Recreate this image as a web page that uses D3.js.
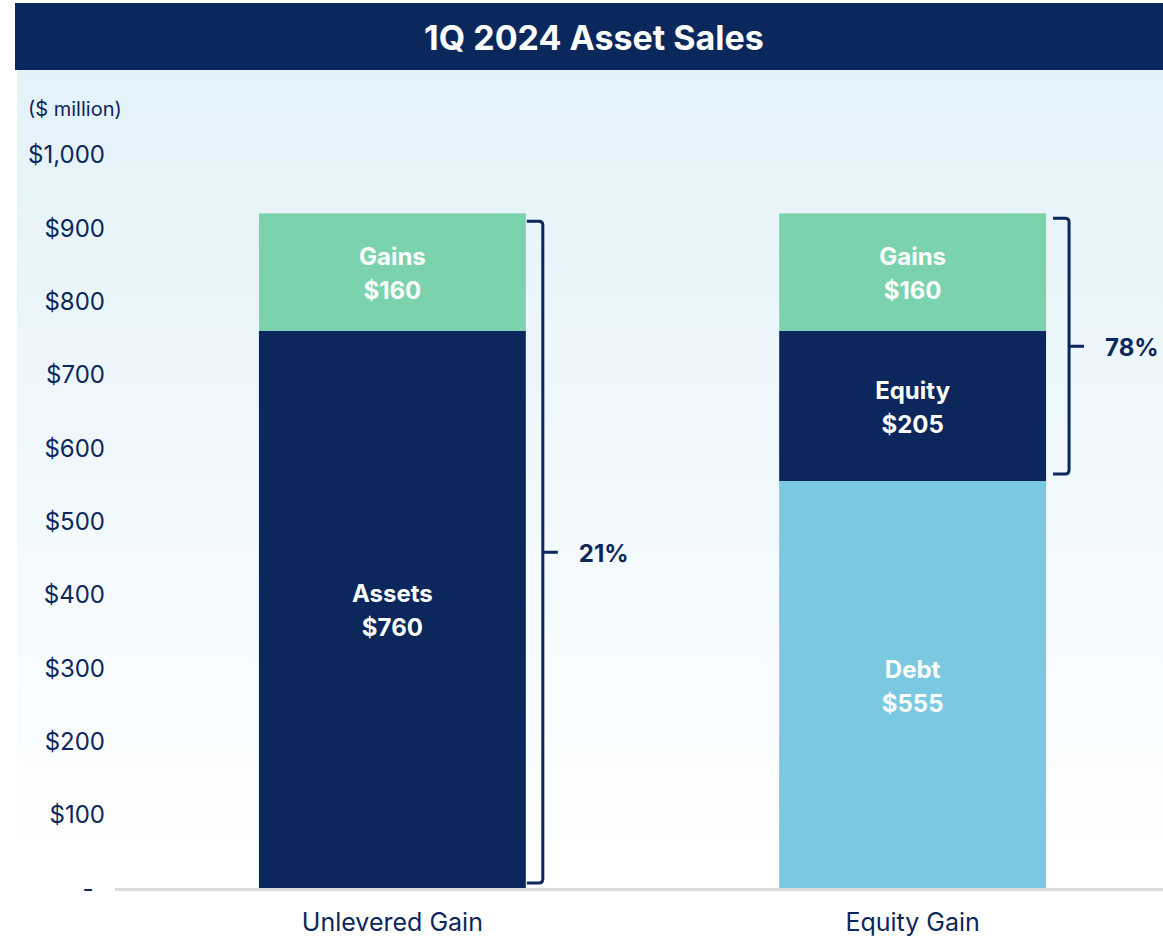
<!DOCTYPE html>
<html>
<head>
<meta charset="utf-8">
<script src="https://cdn.jsdelivr.net/npm/d3@7"></script>
<style>
  body { margin: 0; background: #fff; }
  svg { display: block; font-family: Inter, 'Open Sans', sans-serif; }
</style>
</head>
<body>
<svg id="chart" width="1163" height="940"></svg>
<script>
const categories = ['Unlevered Gain', 'Equity Gain']
// stacked segments, bottom to top
const segments = [
  { category: 'Unlevered Gain', name: 'Assets', value: 760, color: '#0c275c' },
  { category: 'Unlevered Gain', name: 'Gains', value: 160, color: '#7bd3ae' },
  { category: 'Equity Gain', name: 'Debt', value: 555, color: '#7ac9e1' },
  { category: 'Equity Gain', name: 'Equity', value: 205, color: '#0c275c' },
  { category: 'Equity Gain', name: 'Gains', value: 160, color: '#7bd3ae' }
]
const yTicks = [0, 100, 200, 300, 400, 500, 600, 700, 800, 900, 1000]
// brackets: category, from value, to value, label
const brackets = [
  { category: 'Unlevered Gain', from: 0, to: 920, label: '21%' },
  { category: 'Equity Gain', from: 555, to: 920, label: '78%' }
]

const navy = '#0c275c'
const svg = d3.select('#chart')

// background gradient panel
const defs = svg.append('defs')
const grad = defs.append('linearGradient')
    .attr('id', 'bg')
    .attr('x1', 0).attr('y1', 0).attr('x2', 0).attr('y2', 1)
grad.append('stop').attr('offset', '0%').attr('stop-color', '#e3f2f9')
grad.append('stop').attr('offset', '100%').attr('stop-color', '#fdfeff')

svg.append('rect')
  .attr('x', 17).attr('y', 70)
  .attr('width', 1146).attr('height', 770)
  .attr('fill', 'url(#bg)')

// title bar
svg.append('rect')
  .attr('x', 15).attr('y', 3)
  .attr('width', 1148).attr('height', 67)
  .attr('fill', '#0b285d')
svg.append('text')
  .attr('x', 594).attr('y', 37)
  .attr('text-anchor', 'middle')
  .attr('dominant-baseline', 'central')
  .attr('fill', '#fff')
  .style('font-size', '34px')
  .style('font-weight', 700)
  .text('1Q 2024 Asset Sales')

svg.append('text')
  .attr('x', 28).attr('y', 109)
  .attr('dominant-baseline', 'central')
  .attr('fill', navy)
  .style('font-size', '20px')
  .text('($ million)')

// scales
const y = d3.scaleLinear().domain([0, 1000]).range([888, 154.7])
const x = d3.scaleBand()
    .domain(categories)
    .range([132, 1173])
    .paddingInner(0.487)
    .paddingOuter(0.244)

// y axis labels
svg.append('g')
  .selectAll('text')
  .data(yTicks)
  .join('text')
    .attr('x', d => d === 0 ? 88 : 105)
    .attr('y', d => y(d))
    .attr('text-anchor', d => d === 0 ? 'middle' : 'end')
    .attr('dominant-baseline', 'central')
    .attr('fill', navy)
    .style('font-size', '24px')
    .text(d => d === 0 ? '-' : d3.format('$,')(d))

// stacked bars
const stacked = []
categories.forEach(c => {
  let base = 0
  segments.filter(s => s.category === c).forEach(s => {
    stacked.push({ ...s, y0: base, y1: base + s.value })
    base += s.value
  })
})

svg.append('g')
  .selectAll('rect')
  .data(stacked)
  .join('rect')
    .attr('x', d => x(d.category))
    .attr('width', x.bandwidth())
    .attr('y', d => y(d.y1))
    .attr('height', d => y(d.y0) - y(d.y1))
    .attr('fill', d => d.color)

// segment labels
const cx = d => x(d.category) + x.bandwidth() / 2
const lbl = svg.append('g')
  .selectAll('text')
  .data(stacked)
  .join('text')
    .attr('text-anchor', 'middle')
    .attr('dominant-baseline', 'central')
    .attr('fill', '#fff')
    .style('font-size', '24px')
    .style('font-weight', 700)
lbl.append('tspan')
  .attr('x', cx)
  .attr('y', d => (y(d.y0) + y(d.y1)) / 2 - 16)
  .text(d => d.name)
lbl.append('tspan')
  .attr('x', cx)
  .attr('y', d => (y(d.y0) + y(d.y1)) / 2 + 18)
  .text(d => '$' + d.value)

// baseline
svg.append('line')
  .attr('x1', 115).attr('x2', 1163)
  .attr('y1', y(0) + 1.5).attr('y2', y(0) + 1.5)
  .attr('stroke', '#dcdcdc')
  .attr('stroke-width', 3)

// category labels
svg.append('g')
  .selectAll('text')
  .data(categories)
  .join('text')
    .attr('x', d => x(d) + x.bandwidth() / 2)
    .attr('y', 922)
    .attr('text-anchor', 'middle')
    .attr('dominant-baseline', 'central')
    .attr('fill', navy)
    .style('font-size', '25px')
    .text(d => d)

// brackets
const bg = svg.append('g')
brackets.forEach((b, i) => {
  const x0 = x(b.category) + x.bandwidth() + (i === 0 ? 1 : 7)
  const xv = x0 + 16
  const top = y(b.to) + (i === 0 ? 8 : 5)
  const bot = y(b.from) - (i === 0 ? 5 : 7)
  const mid = (top + bot) / 2
  const r = 4
  const p = d3.path()
  p.moveTo(x0, top)
  p.lineTo(xv - r, top)
  p.quadraticCurveTo(xv, top, xv, top + r)
  p.lineTo(xv, bot - r)
  p.quadraticCurveTo(xv, bot, xv - r, bot)
  p.lineTo(x0, bot)
  p.moveTo(xv, mid)
  p.lineTo(xv + 15, mid)
  bg.append('path')
    .attr('d', p.toString())
    .attr('fill', 'none')
    .attr('stroke', navy)
    .attr('stroke-width', 3)
  bg.append('text')
    .attr('x', xv + 36)
    .attr('y', mid + 1)
    .attr('dominant-baseline', 'central')
    .attr('fill', navy)
    .style('font-size', '24px')
    .style('font-weight', 700)
    .text(b.label)
})
</script>
</body>
</html>
